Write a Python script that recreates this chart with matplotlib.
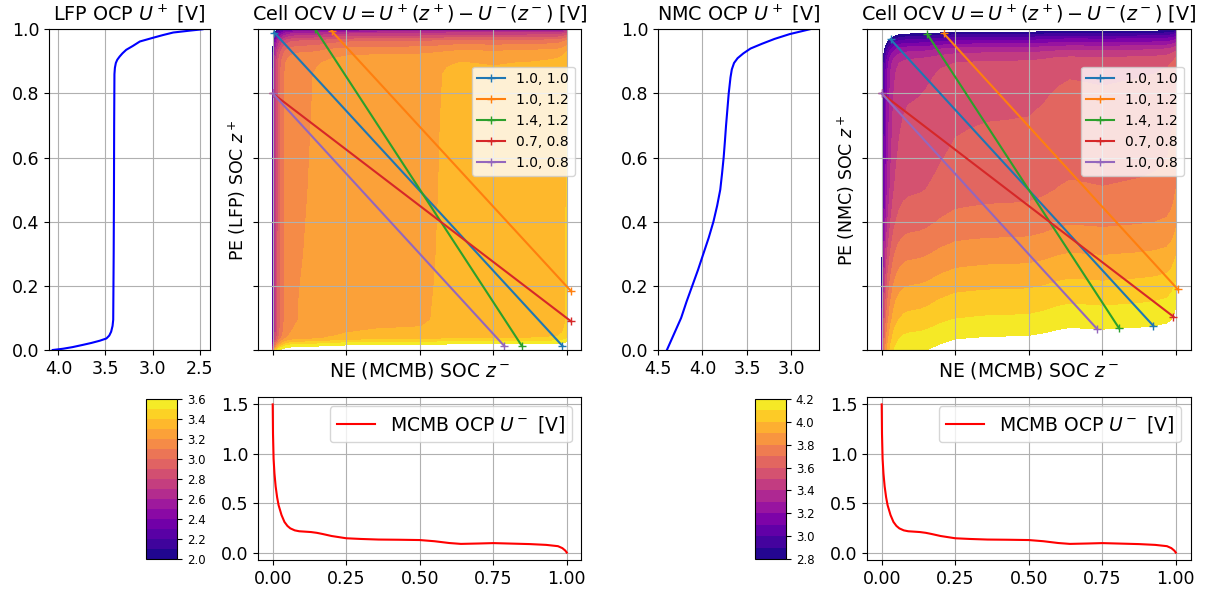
import numpy as np
import matplotlib.pyplot as plt

# -----------------------------------------------------
#  Electrode OCP curves (SOC, volts)
# -----------------------------------------------------
# MCMB negative electrode
z_neg = [0.0, 0.001, 0.003, 0.006, 0.01, 0.015, 0.02, 0.03, 0.04, 0.05,
         0.06, 0.075, 0.09, 0.11, 0.13, 0.15, 0.17, 0.20, 0.25, 0.30,
         0.36, 0.43, 0.50, 0.55, 0.60, 0.64, 0.70, 0.75, 0.80, 0.875,
         0.93, 0.97, 0.985, 0.995, 1.0]
u_neg = [1.5, 1.2, 0.95, 0.8, 0.67, 0.56, 0.48, 0.38, 0.31, 0.27,
         0.245, 0.225, 0.216, 0.212, 0.208, 0.20, 0.188, 0.168, 0.145, 0.138,
         0.132, 0.13, 0.127, 0.115, 0.097, 0.088, 0.092, 0.096, 0.092, 0.086,
         0.078, 0.065, 0.045, 0.02, 0.0]

# LFP positive electrode
z_lfp = [0.0, 0.004, 0.009, 0.016, 0.022, 0.029, 0.036, 0.045, 0.057, 0.075,
         0.094, 0.30, 0.50, 0.70, 0.86, 0.88, 0.895, 0.905, 0.915, 0.925,
         0.936, 0.948, 0.962, 0.974, 0.982, 0.99, 0.996, 1.0]
u_lfp = [4.06, 3.95, 3.85, 3.74, 3.65, 3.56, 3.49, 3.46, 3.44, 3.425,
         3.418, 3.413, 3.41, 3.408, 3.405, 3.40, 3.39, 3.375, 3.35, 3.32,
         3.28, 3.21, 3.135, 2.99, 2.89, 2.78, 2.60, 2.47]

# NMC positive electrode
z_nmc = [0.0, 0.05, 0.10, 0.15, 0.20, 0.25, 0.30, 0.35, 0.40, 0.45,
         0.50, 0.55, 0.60, 0.65, 0.70, 0.75, 0.80, 0.85, 0.875, 0.895,
         0.91, 0.925, 0.94, 0.955, 0.97, 0.985, 1.0]
u_nmc = [4.40, 4.32, 4.24, 4.18, 4.115, 4.05, 3.99, 3.93, 3.877, 3.835,
         3.80, 3.78, 3.762, 3.748, 3.735, 3.72, 3.705, 3.685, 3.67, 3.645,
         3.605, 3.54, 3.46, 3.33, 3.19, 3.02, 2.795]

# -----------------------------------------------------
#  Operating windows (z- start/end, z+ start/end)
# -----------------------------------------------------
window_labels = ["1.0, 1.0", "1.0, 1.2", "1.4, 1.2", "0.7, 0.8", "1.0, 0.8"]

lfp_zneg = [(0.005, 0.985), (0.20, 1.015), (0.145, 0.847), (0.0, 1.015), (0.0, 0.787)]
lfp_zpos = [(0.99, 0.013), (0.995, 0.183), (1.0, 0.013), (0.80, 0.089), (0.80, 0.013)]

nmc_zneg = [(0.03, 0.924), (0.211, 1.007), (0.155, 0.807), (0.0, 0.992), (0.0, 0.733)]
nmc_zpos = [(0.969, 0.075), (0.987, 0.189), (0.985, 0.068), (0.80, 0.104), (0.80, 0.065)]

lfp_levels = np.linspace(2.0, 3.6, 17)
nmc_levels = np.linspace(2.8, 4.2, 15)
lfp_cbar_ticks = [2.0, 2.2, 2.4, 2.6, 2.8, 3.0, 3.2, 3.4, 3.6]
nmc_cbar_ticks = [2.8, 3.0, 3.2, 3.4, 3.6, 3.8, 4.0, 4.2]

W, H = 1206, 593
fig = plt.figure(figsize=(W / 100, H / 100), dpi=100)


def px_axes(x0, y0, x1, y1):
    return fig.add_axes([x0 / W, 1 - y1 / H, (x1 - x0) / W, (y1 - y0) / H])


def draw_half(dx, name, z_pos, u_pos, xlim, xticks, zneg_win, zpos_win,
              levels, cbar_ticks):
    ax_ocp = px_axes(49 + dx, 29.3, 210 + dx, 350)
    ax_c = px_axes(258 + dx, 29.3, 581.5 + dx, 350)
    cax = px_axes(146 + dx, 399, 177 + dx, 559)
    ax_m = px_axes(258 + dx, 397, 581.5 + dx, 560)

    # positive electrode OCP, SOC on the vertical axis
    ax_ocp.plot(u_pos, z_pos, 'b-')
    ax_ocp.set_xlim(xlim)
    ax_ocp.set_xticks(xticks)
    ax_ocp.set_ylim(0, 1)
    ax_ocp.set_yticks([0.0, 0.2, 0.4, 0.6, 0.8, 1.0])
    ax_ocp.set_title(name + r" OCP $U^+$ [V]", fontsize=13.8)
    ax_ocp.tick_params(labelsize=12.5)
    ax_ocp.grid(True)

    # cell OCV map U(z+, z-) = U+(z+) - U-(z-)
    U = np.subtract.outer(np.array(u_pos), np.array(u_neg))
    cs = ax_c.contourf(z_neg, z_pos, U, levels=levels, cmap='plasma')
    for lab, xs, ys in zip(window_labels, zneg_win, zpos_win):
        ax_c.plot(xs, ys, '+-', label=lab)
    ax_c.set_xlim(-0.05, 1.05)
    ax_c.set_ylim(0, 1)
    ax_c.set_xticks([0.0, 0.25, 0.5, 0.75, 1.0])
    ax_c.set_yticks([0.0, 0.2, 0.4, 0.6, 0.8, 1.0])
    ax_c.tick_params(labelbottom=False, labelleft=False)
    ax_c.grid(True)
    ax_c.set_title(r"Cell OCV $U = U^+(z^+) - U^-(z^-)$ [V]", fontsize=13.8)
    ax_c.set_xlabel(r"NE (MCMB) SOC $z^-$", fontsize=13.5)
    ax_c.set_ylabel(r"PE (" + name + r") SOC $z^+$", fontsize=12.5)
    ax_c.legend(loc='upper right', bbox_to_anchor=(1.0, 0.905), fontsize=10)

    cb = fig.colorbar(cs, cax=cax, ticks=cbar_ticks)
    cb.ax.tick_params(labelsize=8.5)

    # negative electrode OCP
    ax_m.plot(z_neg, u_neg, 'r-', label=r"MCMB OCP $U^-$ [V]")
    ax_m.set_xlim(-0.05, 1.05)
    ax_m.set_xticks([0.0, 0.25, 0.5, 0.75, 1.0])
    ax_m.set_yticks([0.0, 0.5, 1.0, 1.5])
    ax_m.tick_params(labelsize=12.5)
    ax_m.grid(True)
    ax_m.legend(loc='upper right', fontsize=13.5)


draw_half(0, "LFP", z_lfp, u_lfp, (4.10, 2.39), [4.0, 3.5, 3.0, 2.5],
          lfp_zneg, lfp_zpos, lfp_levels, lfp_cbar_ticks)
draw_half(609, "NMC", z_nmc, u_nmc, (4.50, 2.69), [4.5, 4.0, 3.5, 3.0],
          nmc_zneg, nmc_zpos, nmc_levels, nmc_cbar_ticks)

fig.savefig("out.png", dpi=100)
